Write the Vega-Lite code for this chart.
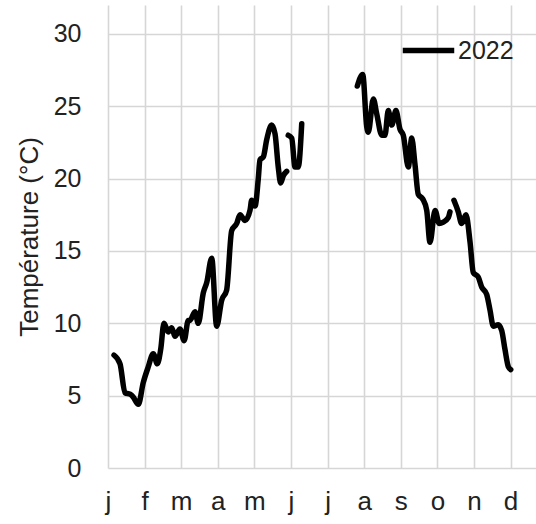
{
  "$schema": "https://vega.github.io/schema/vega-lite/v6.json",
  "width": 428,
  "height": 463,
  "autosize": {"type": "none"},
  "padding": {"left": 108, "top": 5, "right": 0, "bottom": 56},
  "background": "white",
  "config": {
    "font": "Liberation Sans Narrow, Arial Narrow, Liberation Sans",
    "view": {"stroke": null},
    "axis": {"grid": true, "gridColor": "#d6d6d6", "gridWidth": 1.6, "domain": false, "ticks": false, "labelColor": "#222", "titleColor": "#222"}
  },
  "data": {
    "values": [
      {"jour": 5.0, "temp": 7.8, "seg": 1, "serie": "2022"},
      {"jour": 10.0, "temp": 7.2, "seg": 1, "serie": "2022"},
      {"jour": 14.1, "temp": 5.2, "seg": 1, "serie": "2022"},
      {"jour": 18.3, "temp": 5.1, "seg": 1, "serie": "2022"},
      {"jour": 21.0, "temp": 4.9, "seg": 1, "serie": "2022"},
      {"jour": 25.2, "temp": 4.4, "seg": 1, "serie": "2022"},
      {"jour": 29.3, "temp": 5.9, "seg": 1, "serie": "2022"},
      {"jour": 33.5, "temp": 7.0, "seg": 1, "serie": "2022"},
      {"jour": 37.6, "temp": 7.9, "seg": 1, "serie": "2022"},
      {"jour": 41.0, "temp": 7.2, "seg": 1, "serie": "2022"},
      {"jour": 43.8, "temp": 8.2, "seg": 1, "serie": "2022"},
      {"jour": 46.5, "temp": 10.0, "seg": 1, "serie": "2022"},
      {"jour": 50.1, "temp": 9.4, "seg": 1, "serie": "2022"},
      {"jour": 52.9, "temp": 9.7, "seg": 1, "serie": "2022"},
      {"jour": 55.7, "temp": 9.1, "seg": 1, "serie": "2022"},
      {"jour": 59.8, "temp": 9.6, "seg": 1, "serie": "2022"},
      {"jour": 63.3, "temp": 8.8, "seg": 1, "serie": "2022"},
      {"jour": 66.7, "temp": 10.2, "seg": 1, "serie": "2022"},
      {"jour": 68.1, "temp": 10.2, "seg": 1, "serie": "2022"},
      {"jour": 72.3, "temp": 10.8, "seg": 1, "serie": "2022"},
      {"jour": 75.0, "temp": 10.0, "seg": 1, "serie": "2022"},
      {"jour": 79.2, "temp": 12.1, "seg": 1, "serie": "2022"},
      {"jour": 82.0, "temp": 12.8, "seg": 1, "serie": "2022"},
      {"jour": 86.2, "temp": 14.5, "seg": 1, "serie": "2022"},
      {"jour": 90.3, "temp": 9.8, "seg": 1, "serie": "2022"},
      {"jour": 94.5, "temp": 11.6, "seg": 1, "serie": "2022"},
      {"jour": 98.6, "temp": 12.3, "seg": 1, "serie": "2022"},
      {"jour": 102.8, "temp": 16.4, "seg": 1, "serie": "2022"},
      {"jour": 107.0, "temp": 16.9, "seg": 1, "serie": "2022"},
      {"jour": 109.7, "temp": 17.5, "seg": 1, "serie": "2022"},
      {"jour": 113.9, "temp": 17.1, "seg": 1, "serie": "2022"},
      {"jour": 118.0, "temp": 17.8, "seg": 1, "serie": "2022"},
      {"jour": 119.4, "temp": 18.5, "seg": 1, "serie": "2022"},
      {"jour": 122.2, "temp": 18.1, "seg": 1, "serie": "2022"},
      {"jour": 124.9, "temp": 20.0, "seg": 1, "serie": "2022"},
      {"jour": 126.3, "temp": 21.3, "seg": 1, "serie": "2022"},
      {"jour": 129.1, "temp": 21.5, "seg": 1, "serie": "2022"},
      {"jour": 131.9, "temp": 22.7, "seg": 1, "serie": "2022"},
      {"jour": 136.0, "temp": 23.7, "seg": 1, "serie": "2022"},
      {"jour": 138.8, "temp": 23.1, "seg": 1, "serie": "2022"},
      {"jour": 141.5, "temp": 20.8, "seg": 1, "serie": "2022"},
      {"jour": 143.5, "temp": 19.7, "seg": 1, "serie": "2022"},
      {"jour": 145.7, "temp": 20.2, "seg": 1, "serie": "2022"},
      {"jour": 148.5, "temp": 20.5, "seg": 1, "serie": "2022"},
      {"jour": 149.8, "temp": 23.0, "seg": 2, "serie": "2022"},
      {"jour": 152.7, "temp": 22.8, "seg": 2, "serie": "2022"},
      {"jour": 155.4, "temp": 20.8, "seg": 2, "serie": "2022"},
      {"jour": 158.1, "temp": 20.8, "seg": 2, "serie": "2022"},
      {"jour": 161.0, "temp": 23.8, "seg": 2, "serie": "2022"},
      {"jour": 207.2, "temp": 26.4, "seg": 3, "serie": "2022"},
      {"jour": 211.7, "temp": 27.2, "seg": 3, "serie": "2022"},
      {"jour": 215.0, "temp": 23.6, "seg": 3, "serie": "2022"},
      {"jour": 216.3, "temp": 23.2, "seg": 3, "serie": "2022"},
      {"jour": 220.5, "temp": 25.5, "seg": 3, "serie": "2022"},
      {"jour": 223.3, "temp": 24.5, "seg": 3, "serie": "2022"},
      {"jour": 227.5, "temp": 23.0, "seg": 3, "serie": "2022"},
      {"jour": 230.2, "temp": 23.0, "seg": 3, "serie": "2022"},
      {"jour": 232.9, "temp": 24.7, "seg": 3, "serie": "2022"},
      {"jour": 235.8, "temp": 23.7, "seg": 3, "serie": "2022"},
      {"jour": 239.3, "temp": 24.7, "seg": 3, "serie": "2022"},
      {"jour": 242.7, "temp": 23.4, "seg": 3, "serie": "2022"},
      {"jour": 245.4, "temp": 23.0, "seg": 3, "serie": "2022"},
      {"jour": 249.6, "temp": 20.8, "seg": 3, "serie": "2022"},
      {"jour": 252.4, "temp": 22.8, "seg": 3, "serie": "2022"},
      {"jour": 255.1, "temp": 21.0, "seg": 3, "serie": "2022"},
      {"jour": 257.9, "temp": 18.9, "seg": 3, "serie": "2022"},
      {"jour": 261.5, "temp": 18.6, "seg": 3, "serie": "2022"},
      {"jour": 264.9, "temp": 17.8, "seg": 3, "serie": "2022"},
      {"jour": 267.6, "temp": 15.6, "seg": 3, "serie": "2022"},
      {"jour": 271.8, "temp": 17.8, "seg": 3, "serie": "2022"},
      {"jour": 275.3, "temp": 16.9, "seg": 3, "serie": "2022"},
      {"jour": 278.7, "temp": 17.0, "seg": 3, "serie": "2022"},
      {"jour": 282.8, "temp": 17.3, "seg": 3, "serie": "2022"},
      {"jour": 284.2, "temp": 17.7, "seg": 3, "serie": "2022"},
      {"jour": 287.5, "temp": 18.5, "seg": 4, "serie": "2022"},
      {"jour": 291.1, "temp": 17.7, "seg": 4, "serie": "2022"},
      {"jour": 293.9, "temp": 16.9, "seg": 4, "serie": "2022"},
      {"jour": 297.5, "temp": 17.5, "seg": 4, "serie": "2022"},
      {"jour": 300.9, "temp": 15.6, "seg": 4, "serie": "2022"},
      {"jour": 303.6, "temp": 13.5, "seg": 4, "serie": "2022"},
      {"jour": 307.7, "temp": 13.2, "seg": 4, "serie": "2022"},
      {"jour": 310.6, "temp": 12.5, "seg": 4, "serie": "2022"},
      {"jour": 314.7, "temp": 12.0, "seg": 4, "serie": "2022"},
      {"jour": 317.5, "temp": 10.9, "seg": 4, "serie": "2022"},
      {"jour": 320.2, "temp": 9.8, "seg": 4, "serie": "2022"},
      {"jour": 324.3, "temp": 9.9, "seg": 4, "serie": "2022"},
      {"jour": 327.2, "temp": 9.5, "seg": 4, "serie": "2022"},
      {"jour": 329.9, "temp": 8.2, "seg": 4, "serie": "2022"},
      {"jour": 332.7, "temp": 7.0, "seg": 4, "serie": "2022"},
      {"jour": 334.7, "temp": 6.8, "seg": 4, "serie": "2022"}
    ]
  },
  "mark": {"type": "line", "strokeWidth": 5.5, "strokeCap": "round", "strokeJoin": "round", "interpolate": "monotone"},
  "encoding": {
    "x": {
      "field": "jour", "type": "quantitative",
      "scale": {"domain": [0, 355.7], "nice": false, "zero": false},
      "axis": {
        "title": null,
        "values": [0, 30.42, 60.83, 91.25, 121.67, 152.08, 182.5, 212.92, 243.33, 273.75, 304.17, 334.58],
        "labelExpr": "['j','f','m','a','m','j','j','a','s','o','n','d'][round(datum.value / 30.42)]",
        "labelFontSize": 26, "labelPadding": 20, "labelFlush": false
      }
    },
    "y": {
      "field": "temp", "type": "quantitative",
      "scale": {"domain": [0, 32], "nice": false},
      "axis": {
        "title": "Température  (°C)", "titleFontSize": 26, "titleFontWeight": "normal", "titlePadding": 11,
        "values": [0, 5, 10, 15, 20, 25, 30], "labelFontSize": 25, "labelPadding": 27
      }
    },
    "color": {
      "field": "serie", "type": "nominal",
      "scale": {"range": ["#000000"]},
      "legend": {
        "title": null, "orient": "none", "legendX": 292, "legendY": 17,
        "symbolType": "stroke", "symbolSize": 2650, "symbolStrokeWidth": 5.5,
        "labelFontSize": 25, "labelOffset": 1, "labelColor": "#222"
      }
    },
    "detail": {"field": "seg", "type": "nominal"}
  }
}
